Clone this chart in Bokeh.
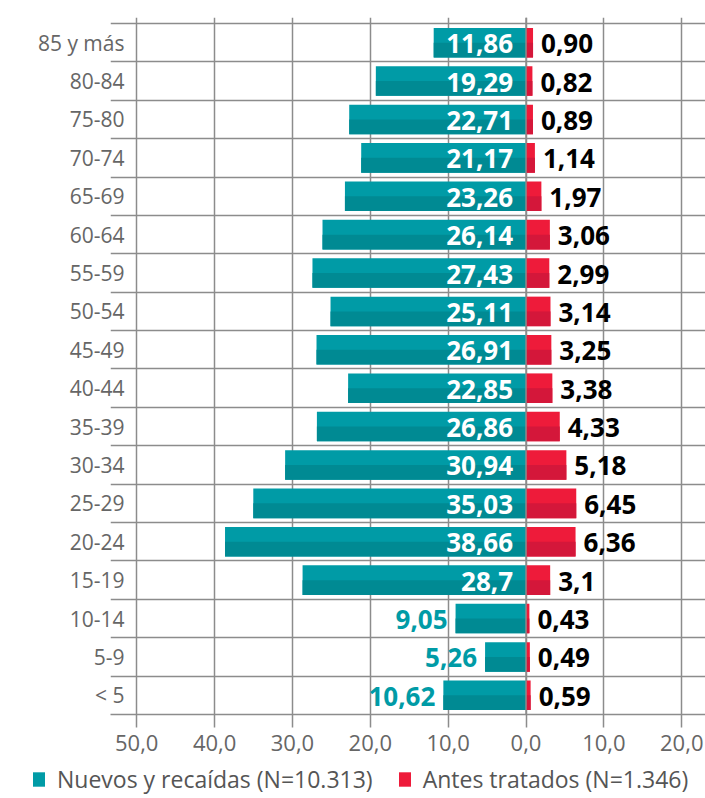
from bokeh.plotting import figure
from bokeh.layouts import column
from bokeh.models import (ColumnDataSource, FixedTicker, CustomJSTickFormatter, Span,
                          Legend, LegendItem, Range1d)
from bokeh.embed import file_html
from bokeh.resources import INLINE
from bokeh.core.properties import value

ages = ["< 5", "5-9", "10-14", "15-19", "20-24", "25-29", "30-34", "35-39", "40-44",
        "45-49", "50-54", "55-59", "60-64", "65-69", "70-74", "75-80", "80-84", "85 y más"]
nuevos = [10.62, 5.26, 9.05, 28.7, 38.66, 35.03, 30.94, 26.86, 22.85,
          26.91, 25.11, 27.43, 26.14, 23.26, 21.17, 22.71, 19.29, 11.86]
antes = [0.59, 0.49, 0.43, 3.1, 6.36, 6.45, 5.18, 4.33, 3.38,
         3.25, 3.14, 2.99, 3.06, 1.97, 1.14, 0.89, 0.82, 0.90]
nuevos_labels = ["10,62", "5,26", "9,05", "28,7", "38,66", "35,03", "30,94", "26,86", "22,85",
                 "26,91", "25,11", "27,43", "26,14", "23,26", "21,17", "22,71", "19,29", "11,86"]
antes_labels = ["0,59", "0,49", "0,43", "3,1", "6,36", "6,45", "5,18", "4,33", "3,38",
                "3,25", "3,14", "2,99", "3,06", "1,97", "1,14", "0,89", "0,82", "0,90"]
x_ticks = [-50, -40, -30, -20, -10, 0, 10, 20]
legend_labels = ["Nuevos y recaídas (N=10.313)", "Antes tratados (N=1.346)"]

TEAL = "#009ba6"
TEAL_D = "#008a93"
RED = "#ee1b3a"
RED_D = "#d4173a"
GRID = "#8c8c8c"

ys = list(range(len(ages)))
H = 0.77
src = ColumnDataSource(dict(
    y=ys,
    y_low=[y - H / 4 for y in ys],
    neg=[-v for v in nuevos],
    pos=antes,
    nl=nuevos_labels,
    al=antes_labels,
))
inside_idx = [i for i, v in enumerate(nuevos) if v >= 11]
outside_idx = [i for i, v in enumerate(nuevos) if v < 11]
src_in = ColumnDataSource(dict(y=[ys[i] for i in inside_idx], t=[nuevos_labels[i] for i in inside_idx]))
src_out = ColumnDataSource(dict(y=[ys[i] for i in outside_idx], x=[-nuevos[i] for i in outside_idx],
                                t=[nuevos_labels[i] for i in outside_idx]))

p = figure(width=705, height=760, output_backend="svg", toolbar_location=None,
           x_range=Range1d(-53.37, 23.05), y_range=Range1d(-0.5, 17.656),
           min_border_left=110, min_border_right=0, min_border_top=17, min_border_bottom=46)
p.outline_line_color = None
p.background_fill_color = "white"

# bars (two-tone)
p.hbar(y="y", left="neg", right=0, height=H, source=src, fill_color=TEAL, line_color=None)
p.hbar(y="y_low", left="neg", right=0, height=H / 2, source=src, fill_color=TEAL_D, line_color=None)
p.hbar(y="y", left=0, right="pos", height=H, source=src, fill_color=RED, line_color=None)
p.hbar(y="y_low", left=0, right="pos", height=H / 2, source=src, fill_color=RED_D, line_color=None)

p.add_layout(Span(location=0, dimension="height", line_color=GRID, line_width=1.5))

# labels
FS = "26px"
p.text(x=0, y="y", text="t", source=src_in, text_align="right", text_baseline="middle",
       x_offset=-13, y_offset=1, text_color="white", text_font=value("Open Sans"),
       text_font_style="bold", text_font_size=FS)
p.text(x="x", y="y", text="t", source=src_out, text_align="right", text_baseline="middle",
       x_offset=-8, y_offset=1, text_color=TEAL, text_font=value("Open Sans"),
       text_font_style="bold", text_font_size=FS)
p.text(x="pos", y="y", text="al", source=src, text_align="left", text_baseline="middle",
       x_offset=8, y_offset=1, text_color="black", text_font=value("Open Sans"),
       text_font_style="bold", text_font_size=FS)

# grids
p.xgrid.ticker = FixedTicker(ticks=x_ticks)
p.xgrid.grid_line_color = GRID
p.xgrid.grid_line_width = 1.5
p.ygrid.ticker = FixedTicker(ticks=[y + 0.5 for y in ys])
p.ygrid.grid_line_color = GRID
p.ygrid.grid_line_width = 1.5

# x axis
xa = p.xaxis[0]
xa.ticker = FixedTicker(ticks=x_ticks)
xa.formatter = CustomJSTickFormatter(code="return Math.abs(tick).toFixed(1).replace('.', ',');")
xa.axis_line_color = GRID
xa.axis_line_width = 1.5
xa.major_tick_line_color = GRID
xa.major_tick_line_width = 1.5
xa.major_tick_out = 13
xa.major_tick_in = 0
xa.minor_tick_line_color = None
xa.major_label_standoff = 7
xa.major_label_text_font = "Open Sans"
xa.major_label_text_font_size = "22px"
xa.major_label_text_color = "#666666"

# y axis
ya = p.yaxis[0]
ya.ticker = FixedTicker(ticks=ys)
ya.major_label_overrides = {y: a for y, a in zip(ys, ages)}
ya.axis_line_color = None
ya.major_tick_line_color = None
ya.minor_tick_line_color = None
ya.major_label_standoff = -20
ya.major_label_text_font = "Open Sans"
ya.major_label_text_font_size = "21px"
ya.major_label_text_color = "#666666"

# legend strip
lg = figure(width=705, height=38, output_backend="svg", toolbar_location=None,
            x_range=Range1d(0, 1), y_range=Range1d(0, 1),
            x_axis_location=None, y_axis_location=None,
            min_border_left=0, min_border_right=0, min_border_top=0, min_border_bottom=0)
lg.grid.visible = False
lg.outline_line_color = None
r1 = lg.rect(x=[-5], y=[-5], width=1, height=1, fill_color=TEAL, line_color=None)
r2 = lg.rect(x=[-5], y=[-5], width=1, height=1, fill_color=RED, line_color=None)
legend = Legend(items=[LegendItem(label=legend_labels[0], renderers=[r1]),
                       LegendItem(label=legend_labels[1], renderers=[r2])],
                orientation="horizontal", location=(31, 3),
                padding=0, margin=0, spacing=24, label_standoff=11,
                glyph_width=15, glyph_height=18, label_height=22,
                label_text_font="Open Sans", label_text_font_size="23px",
                label_text_color="#555555", border_line_color=None,
                background_fill_alpha=0)
lg.add_layout(legend, "center")

layout = column(p, column(lg, spacing=0), spacing=0)
open("out.html", "w").write(file_html(layout, INLINE))
